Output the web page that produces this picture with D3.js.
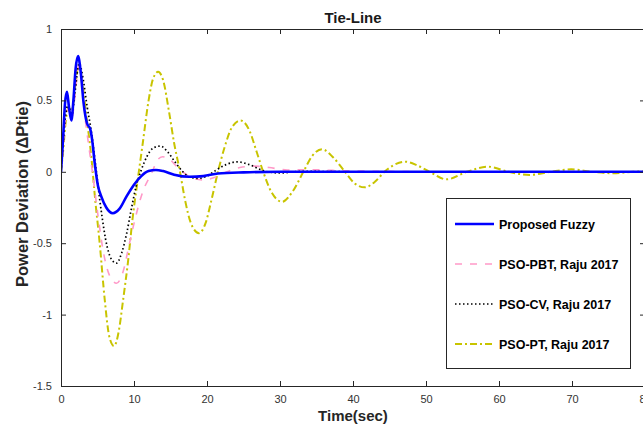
<!DOCTYPE html>
<html lang="en">

<head>
    <meta charset="UTF-8">
    <title>Tie-Line</title>
    <script src="https://d3js.org/d3.v7.min.js"></script>
    <style>
        body {
            margin: 0;
            padding: 0;
            background: #ffffff;
            font-family: "Liberation Sans", Arial, Helvetica, sans-serif;
        }

        #vis {
            display: block;
        }

        .tick text {
            fill: #333333;
            font-size: 11px;
        }
    </style>
</head>

<body>
    <svg id="vis"></svg>
    <script>
        const width = 643;
        const height = 426;
        const margin = { top: 29, right: -2, bottom: 40, left: 61 };

        // [time (s), deviation]
        const fuzzy = [
            [0, 0], [0.3, 0.25], [0.55, 0.48], [0.82, 0.56], [1.1, 0.45], [1.42, 0.36], [1.7, 0.5],
            [2.0, 0.72], [2.33, 0.81], [2.7, 0.7], [3.1, 0.48], [3.56, 0.34], [4.0, 0.3], [4.3, 0.21],
            [4.6, 0.07], [5.07, -0.1], [5.5, -0.17], [6.2, -0.25], [7.1, -0.29], [8.0, -0.26],
            [9.0, -0.17], [10.0, -0.09], [11.0, -0.03], [12.0, 0.005], [13.0, 0.013], [14.0, 0.005],
            [15.5, -0.02], [17.6, -0.035], [19.5, -0.03], [21.5, -0.012], [25, -0.004], [30, 0], [80, 0]
        ];
        const psoPBT = [
            [0, 0], [0.3, 0.18], [0.6, 0.36], [1.0, 0.44], [1.5, 0.38], [1.9, 0.52], [2.4, 0.74],
            [2.9, 0.6], [3.3, 0.38], [3.7, 0.22], [4.3, 0.0], [5.0, -0.28], [5.8, -0.56], [6.6, -0.72],
            [7.6, -0.78], [8.5, -0.7], [9.3, -0.52], [10.1, -0.34], [11.2, -0.14], [12.4, -0.01],
            [13.2, 0.08], [13.9, 0.105], [14.8, 0.09], [16.0, 0.03], [17.5, -0.03], [19.5, -0.057],
            [21.0, -0.04], [22.5, -0.005], [24.5, 0.03], [26.5, 0.04], [28.5, 0.03], [31, 0.013],
            [34, 0.015], [37, 0.01], [40, 0.006], [45, 0.003], [50, 0], [80, 0]
        ];
        const psoCV = [
            [0, 0], [0.3, 0.2], [0.6, 0.38], [1.0, 0.47], [1.5, 0.4], [1.9, 0.55], [2.5, 0.76],
            [3.0, 0.66], [3.6, 0.45], [4.16, 0.28], [4.8, 0.02], [5.5, -0.27], [6.3, -0.52],
            [7.0, -0.62], [7.6, -0.64], [8.3, -0.57], [9.0, -0.43], [9.6, -0.27], [10.3, -0.1],
            [11.0, 0.013], [11.8, 0.11], [12.6, 0.165], [13.6, 0.18], [14.6, 0.14], [15.6, 0.07],
            [16.6, 0.005], [17.6, -0.035], [18.8, -0.046], [20.0, -0.03], [21.2, 0.01], [22.6, 0.05],
            [24.2, 0.07], [25.8, 0.05], [27.9, 0.005], [30, -0.008], [33, 0.003], [36, 0.002],
            [40, 0], [80, 0]
        ];
        const psoPT = [
            [0, 0], [0.3, 0.15], [0.6, 0.33], [0.96, 0.44], [1.3, 0.42], [1.6, 0.45], [2.0, 0.62],
            [2.4, 0.74], [3.0, 0.6], [3.5, 0.38], [3.9, 0.22], [4.2, 0.08], [4.6, -0.15], [5.3, -0.5],
            [6.0, -0.9], [6.6, -1.15], [7.26, -1.22], [7.9, -1.12], [8.5, -0.9], [9.2, -0.62],
            [9.8, -0.33], [10.5, -0.06], [11.2, 0.2], [12.0, 0.5], [12.6, 0.65], [13.3, 0.7],
            [14.0, 0.64], [14.8, 0.42], [15.5, 0.2], [16.3, 0], [17.0, -0.2], [17.8, -0.36],
            [18.9, -0.43], [19.8, -0.36], [20.6, -0.2], [21.5, 0], [22.4, 0.17], [23.4, 0.31],
            [24.6, 0.36], [25.8, 0.29], [26.8, 0.14], [27.7, 0], [28.8, -0.14], [30.3, -0.21],
            [31.7, -0.14], [33.2, 0], [34.4, 0.11], [35.75, 0.158], [37.3, 0.1], [38.9, 0],
            [40.2, -0.08], [41.6, -0.109], [43.0, -0.07], [44.3, 0], [45.7, 0.05], [47.1, 0.071],
            [48.8, 0.045], [50.5, 0], [52.8, -0.053], [55.6, 0], [58.5, 0.036], [61.3, 0],
            [64.2, -0.022], [67, 0], [69.9, 0.017], [72.7, 0], [75.6, -0.01], [78.4, 0], [80, 0.004]
        ];

        const xTicks = [0, 10, 20, 30, 40, 50, 60, 70, 80];
        const yTicks = [-1.5, -1, -0.5, 0, 0.5, 1];
        const seriesNames = ["Proposed Fuzzy", "PSO-PBT, Raju 2017", "PSO-CV, Raju 2017", "PSO-PT, Raju 2017"];

        const styles = [
            { color: "#0000ff", width: 2.6, dash: null },
            { color: "#ff99c8", width: 1.6, dash: "7,8" },
            { color: "#000000", width: 1.7, dash: "1.5,2.5" },
            { color: "#c8c400", width: 2.0, dash: "7,3,2,3" }
        ];
        const allSeries = [fuzzy, psoPBT, psoCV, psoPT];

        const svg = d3.select("#vis").attr("width", width).attr("height", height);

        const x = d3.scaleLinear().domain([0, 80]).range([margin.left, width - margin.right]);
        const y = d3.scaleLinear().domain([-1.5, 1]).range([height - margin.bottom, margin.top]);

        svg.append("defs").append("clipPath").attr("id", "plotclip")
            .append("rect")
            .attr("x", x(0)).attr("y", y(1))
            .attr("width", x(80) - x(0)).attr("height", y(-1.5) - y(1));

        const line = d3.line()
            .x(d => x(d[0]))
            .y(d => y(d[1]))
            .curve(d3.curveMonotoneX);

        // draw back to front: yellow under, blue on top
        const order = [3, 1, 2, 0];
        const plot = svg.append("g").attr("clip-path", "url(#plotclip)");
        order.forEach(i => {
            plot.append("path")
                .datum(allSeries[i])
                .attr("d", line)
                .attr("fill", "none")
                .attr("stroke", styles[i].color)
                .attr("stroke-width", styles[i].width)
                .attr("stroke-dasharray", styles[i].dash)
                .attr("stroke-linejoin", "round");
        });

        // axes box with inward ticks on all sides
        const axisColor = "#262626";
        const plain = d => String(d); // matlab-style hyphen minus
        const axBottom = svg.append("g")
            .attr("transform", `translate(0,${y(-1.5)})`)
            .call(d3.axisBottom(x).tickValues(xTicks).tickSizeInner(-5).tickSizeOuter(0).tickPadding(9)
                .tickFormat(plain));
        const axTop = svg.append("g")
            .attr("transform", `translate(0,${y(1)})`)
            .call(d3.axisTop(x).tickValues(xTicks).tickSizeInner(-5).tickSizeOuter(0).tickFormat(""));
        const axLeft = svg.append("g")
            .attr("transform", `translate(${x(0)},0)`)
            .call(d3.axisLeft(y).tickValues(yTicks).tickSizeInner(-5).tickSizeOuter(0).tickPadding(9)
                .tickFormat(plain));
        const axRight = svg.append("g")
            .attr("transform", `translate(${x(80)},0)`)
            .call(d3.axisRight(y).tickValues(yTicks).tickSizeInner(-5).tickSizeOuter(0).tickFormat(""));

        [axBottom, axTop, axLeft, axRight].forEach(g => {
            g.selectAll("path").attr("stroke", axisColor).attr("stroke-width", 1);
            g.selectAll("line").attr("stroke", axisColor).attr("stroke-width", 1);
            g.selectAll("text").attr("font-family", "Liberation Sans, Arial, sans-serif");
        });

        // title and labels
        svg.append("text")
            .attr("x", (x(0) + x(80)) / 2)
            .attr("y", 23)
            .attr("text-anchor", "middle")
            .attr("font-weight", "bold")
            .attr("font-size", 15)
            .attr("fill", "#1a1a1a")
            .text("Tie-Line");

        svg.append("text")
            .attr("x", (x(0) + x(80)) / 2)
            .attr("y", 421)
            .attr("text-anchor", "middle")
            .attr("font-weight", "bold")
            .attr("font-size", 15)
            .attr("fill", "#262626")
            .text("Time(sec)");

        svg.append("text")
            .attr("transform", `translate(28,194) rotate(-90)`)
            .attr("text-anchor", "middle")
            .attr("font-weight", "bold")
            .attr("font-size", 16.5)
            .attr("fill", "#262626")
            .text("Power Deviation (ΔPtie)");

        // legend
        const legend = svg.append("g").attr("id", "legend");
        legend.append("rect")
            .attr("x", 446.5).attr("y", 198.5)
            .attr("width", 184).attr("height", 170)
            .attr("fill", "#ffffff")
            .attr("stroke", axisColor)
            .attr("stroke-width", 1);

        seriesNames.forEach((name, i) => {
            const ly = 224 + i * 40;
            legend.append("line")
                .attr("x1", 455).attr("x2", 494)
                .attr("y1", ly).attr("y2", ly)
                .attr("stroke", styles[i].color)
                .attr("stroke-width", styles[i].width)
                .attr("stroke-dasharray", styles[i].dash);
            legend.append("text")
                .attr("x", 499)
                .attr("y", ly + 4.5)
                .attr("font-weight", "bold")
                .attr("font-size", 12.5)
                .attr("fill", "#000000")
                .text(name);
        });
    </script>
</body>

</html>
